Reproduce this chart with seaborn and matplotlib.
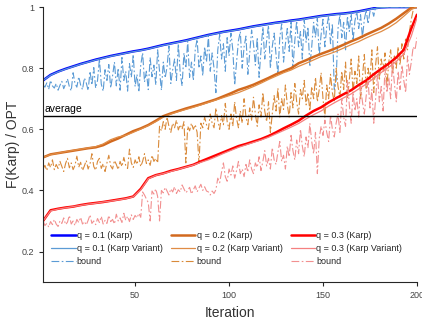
"""
Karp vs. Karp Variant vs. bound, normalised by OPT, over 200 iterations.
"""

import matplotlib
matplotlib.use("Agg")
import matplotlib.pyplot as plt
import seaborn as sns

output_file = "out.png"

# x positions
iters = list(range(1, 201))
iters_coarse = list(range(1, 201, 4)) + [200]

# q = 0.1
blue_karp = [
    0.760, 0.778, 0.789, 0.798, 0.806, 0.814, 0.821, 0.828, 0.834, 0.840,
    0.845, 0.850, 0.855, 0.859, 0.864, 0.870, 0.876, 0.881, 0.886, 0.891,
    0.897, 0.903, 0.909, 0.914, 0.919, 0.923, 0.927, 0.932, 0.937, 0.941,
    0.945, 0.949, 0.952, 0.956, 0.959, 0.963, 0.967, 0.971, 0.974, 0.977,
    0.979, 0.982, 0.986, 0.991, 0.996, 0.999, 1.0, 1.0, 1.0, 1.0,
    1.0]
blue_var = [
    0.760, 0.777, 0.788, 0.797, 0.805, 0.813, 0.820, 0.827, 0.833, 0.839,
    0.844, 0.849, 0.854, 0.858, 0.863, 0.869, 0.875, 0.880, 0.885, 0.890,
    0.896, 0.902, 0.908, 0.913, 0.918, 0.922, 0.926, 0.931, 0.936, 0.940,
    0.944, 0.948, 0.951, 0.955, 0.958, 0.962, 0.966, 0.970, 0.973, 0.976,
    0.978, 0.981, 0.985, 0.990, 0.995, 0.998, 1.0, 1.0, 1.0, 1.0,
    1.0]
blue_bound = [
    0.745, 0.738, 0.752, 0.731, 0.760, 0.742, 0.735, 0.750, 0.728, 0.744,
    0.757, 0.733, 0.748, 0.765, 0.740, 0.726, 0.785, 0.750, 0.738, 0.772,
    0.745, 0.730, 0.768, 0.752, 0.727, 0.790, 0.745, 0.802, 0.735, 0.760,
    0.830, 0.748, 0.725, 0.795, 0.760, 0.812, 0.735, 0.775, 0.820, 0.742,
    0.800, 0.728, 0.835, 0.760, 0.790, 0.725, 0.815, 0.770, 0.845, 0.740,
    0.780, 0.722, 0.810, 0.850, 0.755, 0.790, 0.730, 0.835, 0.772, 0.810,
    0.745, 0.860, 0.790, 0.728, 0.820, 0.768, 0.805, 0.873, 0.750, 0.795,
    0.830, 0.760, 0.880, 0.785, 0.742, 0.850, 0.800, 0.888, 0.770, 0.820,
    0.760, 0.860, 0.895, 0.800, 0.840, 0.775, 0.870, 0.820, 0.905, 0.790,
    0.850, 0.800, 0.720, 0.860, 0.910, 0.830, 0.880, 0.790, 0.900, 0.840,
    0.915, 0.860, 0.745, 0.820, 0.890, 0.920, 0.800, 0.870, 0.905, 0.780,
    0.850, 0.925, 0.880, 0.810, 0.900, 0.770, 0.860, 0.935, 0.830, 0.890,
    0.940, 0.800, 0.870, 0.915, 0.845, 0.780, 0.900, 0.945, 0.820, 0.880,
    0.930, 0.855, 0.950, 0.800, 0.890, 0.955, 0.870, 0.920, 0.830, 0.960,
    0.885, 0.935, 0.805, 0.870, 0.950, 0.900, 0.965, 0.840, 0.910, 0.960,
    0.870, 0.935, 0.970, 0.880, 0.945, 0.730, 0.760, 0.930, 0.975, 0.900,
    0.950, 0.860, 0.970, 0.920, 0.980, 0.890, 0.955, 0.985, 0.930, 0.975,
    0.900, 0.960, 0.990, 0.945, 0.985, 0.995, 0.970, 1.0, 1.0, 1.0,
    1.0, 1.0, 1.0, 1.0, 1.0, 1.0, 1.0, 1.0, 1.0, 1.0,
    1.0, 1.0, 1.0, 1.0, 1.0, 1.0, 1.0, 1.0, 1.0, 1.0]

# q = 0.2
orange_karp = [
    0.508, 0.518, 0.522, 0.526, 0.530, 0.534, 0.538, 0.541, 0.548, 0.560,
    0.570, 0.582, 0.594, 0.603, 0.614, 0.628, 0.643, 0.652, 0.660, 0.668,
    0.675, 0.682, 0.690, 0.698, 0.708, 0.718, 0.729, 0.737, 0.746, 0.757,
    0.768, 0.780, 0.790, 0.800, 0.816, 0.826, 0.837, 0.847, 0.856, 0.866,
    0.877, 0.888, 0.898, 0.910, 0.921, 0.932, 0.946, 0.962, 0.980, 0.998,
    1.0]
orange_var = [
    0.508, 0.517, 0.522, 0.527, 0.531, 0.535, 0.539, 0.543, 0.552, 0.566,
    0.575, 0.580, 0.590, 0.601, 0.612, 0.625, 0.640, 0.650, 0.658, 0.665,
    0.672, 0.680, 0.688, 0.696, 0.704, 0.712, 0.720, 0.730, 0.740, 0.751,
    0.763, 0.774, 0.785, 0.794, 0.806, 0.816, 0.827, 0.838, 0.846, 0.855,
    0.866, 0.877, 0.887, 0.899, 0.910, 0.920, 0.933, 0.949, 0.970, 0.992,
    1.0]
orange_bound = [
    0.470, 0.482, 0.465, 0.490, 0.475, 0.500, 0.468, 0.485, 0.472, 0.495,
    0.478, 0.462, 0.488, 0.505, 0.474, 0.490, 0.468, 0.482, 0.512, 0.476,
    0.492, 0.465, 0.480, 0.498, 0.470, 0.487, 0.520, 0.478, 0.466, 0.495,
    0.505, 0.472, 0.488, 0.462, 0.490, 0.515, 0.480, 0.470, 0.498, 0.485,
    0.468, 0.495, 0.478, 0.508, 0.482, 0.472, 0.535, 0.490, 0.475, 0.500,
    0.485, 0.510, 0.478, 0.495, 0.520, 0.488, 0.500, 0.482, 0.515, 0.495,
    0.505, 0.490, 0.610, 0.595, 0.625, 0.600, 0.640, 0.610, 0.590, 0.620,
    0.605, 0.630, 0.598, 0.615, 0.600, 0.625, 0.490, 0.610, 0.595, 0.620,
    0.600, 0.615, 0.590, 0.490, 0.620, 0.605, 0.640, 0.615, 0.600, 0.650,
    0.620, 0.605, 0.670, 0.630, 0.600, 0.645, 0.615, 0.685, 0.625, 0.600,
    0.650, 0.610, 0.690, 0.635, 0.605, 0.660, 0.620, 0.700, 0.640, 0.615,
    0.670, 0.630, 0.705, 0.650, 0.610, 0.680, 0.640, 0.720, 0.660, 0.625,
    0.690, 0.590, 0.650, 0.710, 0.660, 0.735, 0.640, 0.700, 0.665, 0.745,
    0.680, 0.640, 0.720, 0.670, 0.750, 0.690, 0.650, 0.730, 0.700, 0.760,
    0.680, 0.720, 0.660, 0.740, 0.700, 0.770, 0.690, 0.730, 0.785, 0.700,
    0.640, 0.745, 0.700, 0.780, 0.720, 0.690, 0.800, 0.740, 0.705, 0.790,
    0.730, 0.820, 0.700, 0.760, 0.830, 0.720, 0.790, 0.750, 0.840, 0.700,
    0.770, 0.845, 0.730, 0.800, 0.760, 0.860, 0.720, 0.810, 0.870, 0.760,
    0.830, 0.790, 0.850, 0.740, 0.820, 0.860, 0.780, 0.840, 0.800, 0.870,
    0.810, 0.880, 0.830, 0.900, 0.860, 0.920, 0.960, 0.990, 1.000, 1.000]

# q = 0.3
red_karp = [
    0.300, 0.335, 0.340, 0.344, 0.347, 0.352, 0.356, 0.359, 0.362, 0.366,
    0.370, 0.374, 0.380, 0.405, 0.440, 0.450, 0.456, 0.464, 0.470, 0.477,
    0.484, 0.495, 0.505, 0.515, 0.525, 0.535, 0.545, 0.552, 0.560, 0.568,
    0.578, 0.590, 0.603, 0.615, 0.628, 0.645, 0.660, 0.672, 0.688, 0.702,
    0.715, 0.728, 0.745, 0.760, 0.780, 0.798, 0.815, 0.835, 0.860, 0.930,
    0.975]
red_var = [
    0.300, 0.333, 0.339, 0.343, 0.347, 0.351, 0.355, 0.358, 0.362, 0.365,
    0.369, 0.373, 0.379, 0.402, 0.438, 0.449, 0.455, 0.462, 0.469, 0.476,
    0.483, 0.492, 0.500, 0.510, 0.521, 0.531, 0.541, 0.549, 0.557, 0.565,
    0.574, 0.585, 0.596, 0.607, 0.619, 0.634, 0.648, 0.660, 0.676, 0.690,
    0.703, 0.716, 0.732, 0.748, 0.767, 0.786, 0.803, 0.822, 0.846, 0.905,
    0.965]
red_bound = [
    0.300, 0.285, 0.292, 0.280, 0.298, 0.288, 0.305, 0.290, 0.282, 0.300,
    0.292, 0.310, 0.288, 0.296, 0.318, 0.290, 0.300, 0.285, 0.305, 0.295,
    0.312, 0.290, 0.298, 0.287, 0.302, 0.320, 0.292, 0.300, 0.288, 0.308,
    0.295, 0.315, 0.290, 0.302, 0.292, 0.318, 0.298, 0.305, 0.290, 0.322,
    0.300, 0.310, 0.295, 0.325, 0.302, 0.315, 0.298, 0.320, 0.305, 0.318,
    0.310, 0.325, 0.312, 0.395, 0.385, 0.372, 0.360, 0.300, 0.398, 0.388,
    0.405, 0.380, 0.300, 0.400, 0.392, 0.410, 0.398, 0.385, 0.405, 0.395,
    0.412, 0.390, 0.402, 0.395, 0.418, 0.405, 0.392, 0.400, 0.410, 0.388,
    0.402, 0.415, 0.395, 0.408, 0.420, 0.400, 0.412, 0.398, 0.395, 0.385,
    0.398, 0.390, 0.402, 0.440, 0.425, 0.460, 0.490, 0.445, 0.430, 0.470,
    0.450, 0.480, 0.440, 0.465, 0.495, 0.455, 0.470, 0.445, 0.485, 0.460,
    0.500, 0.470, 0.455, 0.490, 0.475, 0.510, 0.465, 0.495, 0.530, 0.480,
    0.505, 0.470, 0.540, 0.500, 0.485, 0.525, 0.560, 0.495, 0.515, 0.470,
    0.545, 0.510, 0.580, 0.530, 0.500, 0.565, 0.520, 0.600, 0.545, 0.510,
    0.575, 0.540, 0.620, 0.560, 0.520, 0.590, 0.455, 0.570, 0.610, 0.580,
    0.630, 0.590, 0.560, 0.645, 0.600, 0.575, 0.620, 0.650, 0.590, 0.700,
    0.640, 0.610, 0.760, 0.680, 0.620, 0.720, 0.660, 0.700, 0.640, 0.740,
    0.690, 0.650, 0.710, 0.760, 0.670, 0.730, 0.620, 0.700, 0.780, 0.690,
    0.740, 0.660, 0.800, 0.720, 0.770, 0.700, 0.820, 0.750, 0.690, 0.790,
    0.730, 0.810, 0.760, 0.720, 0.840, 0.780, 0.820, 0.870, 0.860, 0.900]

average = 0.645

sns.set_style("ticks")
plt.rcParams["font.family"] = ["Liberation Sans", "DejaVu Sans"]

fig = plt.figure(figsize=(4.22, 3.22), dpi=100)
ax = fig.add_axes([0.102, 0.124, 0.886, 0.854])

dashdot = (0, (7, 2.2, 1.5, 2.2))
series = [
    ("0.1", blue_karp, blue_var, blue_bound, "#0000ff", "#5b9bd5", "#5b9bd5"),
    ("0.2", orange_karp, orange_var, orange_bound, "#d2691e", "#e08c45", "#d98a3a"),
    ("0.3", red_karp, red_var, red_bound, "#ff0000", "#f58080", "#f29090"),
]
for q, karp, var, bound, c_karp, c_var, c_bound in series:
    sns.lineplot(x=iters_coarse, y=karp, ax=ax, color=c_karp, linewidth=1.8,
                 label=f"q = {q} (Karp)")
    sns.lineplot(x=iters_coarse, y=var, ax=ax, color=c_var, linewidth=0.9,
                 label=f"q = {q} (Karp Variant)")
    sns.lineplot(x=iters, y=bound, ax=ax, color=c_bound, linewidth=0.8,
                 linestyle=dashdot, label="bound")

ax.axhline(average, color="black", linewidth=1.0)
ax.text(2, average + 0.006, "average", fontsize=7.5, color="black", va="bottom")

ax.set_xlim(1, 200)
ax.set_ylim(0.1, 1.0)
ax.set_xticks([50, 100, 150, 200])
ax.set_yticks([0.2, 0.4, 0.6, 0.8, 1.0])
ax.set_yticklabels(["0.2", "0.4", "0.6", "0.8", "1"])
ax.tick_params(axis="both", labelsize=6.5, labelcolor="#444444", length=3, width=0.8)
ax.set_xlabel("Iteration", fontsize=10, color="#333333")
ax.set_ylabel("F(Karp) / OPT", fontsize=10, color="#333333")
ax.yaxis.set_label_coords(-0.062, 0.5)
sns.despine(ax=ax)

ax.legend(ncol=3, frameon=False, loc="upper left", bbox_to_anchor=(0.012, 0.2),
          fontsize=6.5, handlelength=2.7, handletextpad=0.15,
          columnspacing=0.9, labelspacing=0.45, borderaxespad=0)

plt.savefig(output_file, dpi=100)
plt.close()
